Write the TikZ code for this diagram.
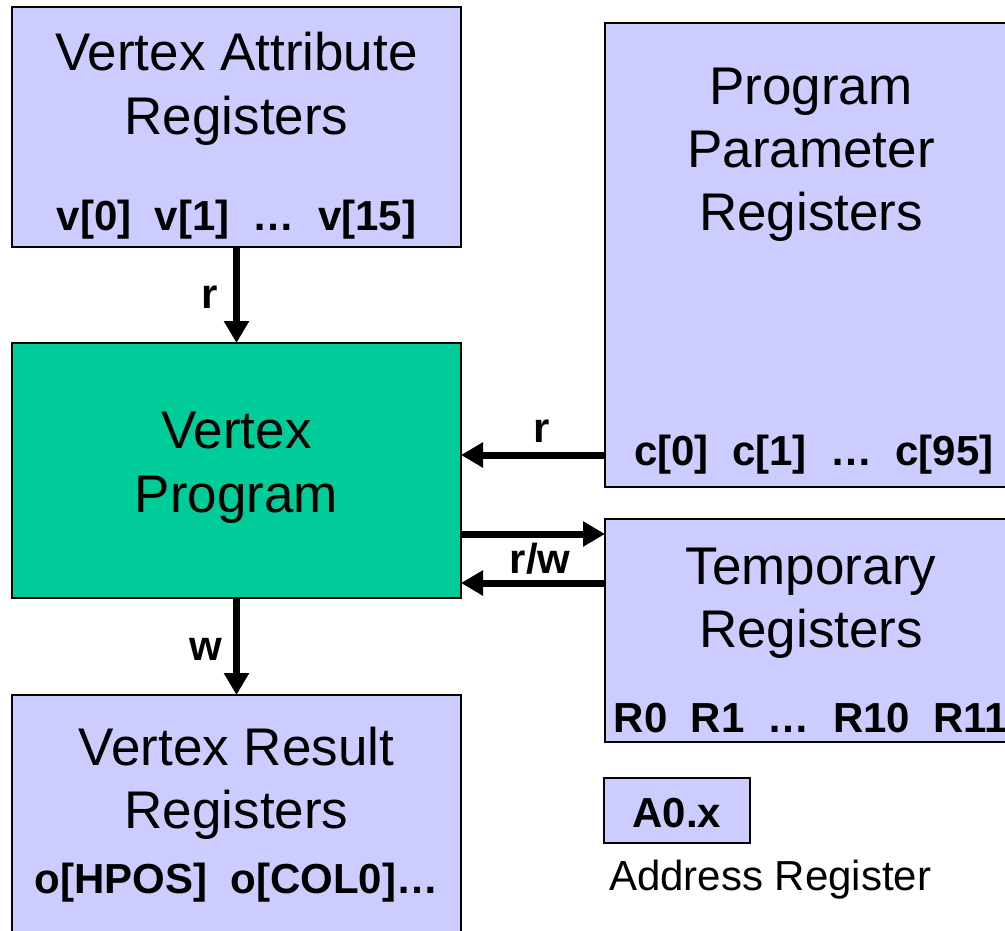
\documentclass[tikz,border=0pt]{standalone}
\usepackage{fontspec}
\setmainfont{Liberation Sans}
\usetikzlibrary{arrows.meta}
\definecolor{regfill}{HTML}{CCCCFF}
\definecolor{progfill}{HTML}{00CC99}

\begin{document}
\begin{tikzpicture}[x=1pt,y=-1pt,
  regbox/.style={draw=black, line width=2pt, fill=regfill, anchor=north west,
                 inner sep=0pt, outer sep=0pt},
  progbox/.style={regbox, fill=progfill},
  title/.style={font=\fontsize{53}{64}\selectfont, anchor=base, inner sep=0pt},
  regs/.style={font=\fontsize{42}{50}\selectfont\bfseries, anchor=base, inner sep=0pt},
  lbl/.style={font=\fontsize{42}{50}\selectfont\bfseries, anchor=base, inner sep=0pt},
  note/.style={font=\fontsize{42}{50}\selectfont, anchor=base west, inner sep=0pt},
  arr/.style={line width=7pt, -{Triangle[length=22pt,width=24pt]}}
]
\useasboundingbox (0,0) rectangle (1005,930);
\clip (0,0) rectangle (1005,930);

% register files and the program block
\node[regbox, minimum width=449pt, minimum height=240pt] (va) at (12,7) {};
\node[regbox, minimum width=412pt, minimum height=464pt] (pp) at (605,23) {};
\node[progbox, minimum width=449pt, minimum height=255pt] (vp) at (12,343) {};
\node[regbox, minimum width=412pt, minimum height=223pt] (tr) at (605,519) {};
\node[regbox, minimum width=449pt, minimum height=260pt] (vr) at (12,695) {};
\node[regbox, minimum width=146pt, minimum height=65pt] (a0) at (604,778) {};

% vertex attribute registers
\node[title] (vat1) at (236.5,70) {Vertex Attribute};
\node[title] (vat2) at (236.5,134) {Registers};
\node[regs] (vregs) at (236.5,230) {v[0]~~v[1]~~…~~v[15]};

% program parameter registers
\node[title] (ppt1) at (811,104) {Program};
\node[title] (ppt2) at (811,167) {Parameter};
\node[title] (ppt3) at (811,230) {Registers};
\node[regs] (cregs) at (814,465) {c[0]~~c[1]~~…~~c[95]};

% vertex program
\node[title] (vpt1) at (236.5,448) {Vertex};
\node[title] (vpt2) at (236.5,512) {Program};

% temporary registers
\node[title] (trt1) at (811,584) {Temporary};
\node[title] (trt2) at (811,647) {Registers};
\node[regs] (rregs) at (811,732) {R0~~R1~~…~~R10~~R11};

% vertex result registers
\node[title] (vrt1) at (236.5,765) {Vertex Result};
\node[title] (vrt2) at (236.5,828) {Registers};
\node[regs] (oregs) at (236.5,893) {o[HPOS]~~o[COL0]…};

% address register
\node[regs] (a0t) at (677,827) {A0.x};
\node[note] (a0n) at (609,890) {Address Register};

% data flow
\draw[arr] (va.south) -- (vp.north);
\node[lbl] at (210,308) {r};
\draw[arr] (pp.west |- 0,455) -- (vp.east |- 0,455);
\node[lbl] at (542,442) {r};
\draw[arr] (vp.east |- 0,534) -- (tr.west |- 0,534);
\draw[arr] (tr.west |- 0,583) -- (vp.east |- 0,583);
\node[lbl] at (540,573) {r/w};
\draw[arr] (vp.south) -- (vr.north);
\node[lbl] at (206,660) {w};
\end{tikzpicture}
\end{document}
